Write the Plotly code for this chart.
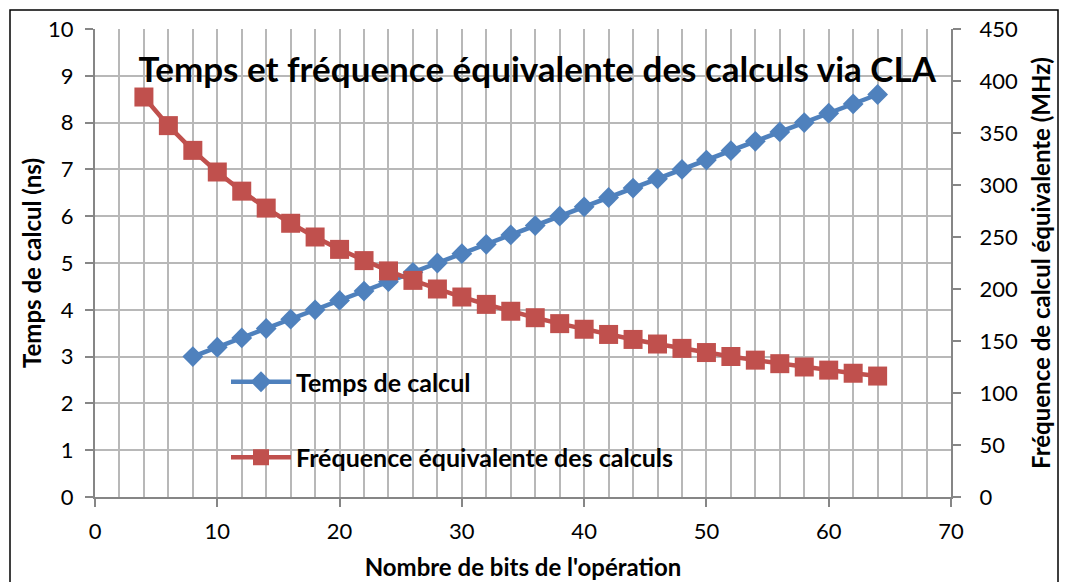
import plotly.graph_objects as go

# Data
bits_temps = [8, 10, 12, 14, 16, 18, 20, 22, 24, 26, 28, 30, 32, 34, 36, 38, 40,
              42, 44, 46, 48, 50, 52, 54, 56, 58, 60, 62, 64]
temps_ns = [3.0, 3.2, 3.4, 3.6, 3.8, 4.0, 4.2, 4.4, 4.6, 4.8, 5.0, 5.2, 5.4, 5.6,
            5.8, 6.0, 6.2, 6.4, 6.6, 6.8, 7.0, 7.2, 7.4, 7.6, 7.8, 8.0, 8.2, 8.4, 8.6]

bits_freq = [4, 6, 8, 10, 12, 14, 16, 18, 20, 22, 24, 26, 28, 30, 32, 34, 36, 38,
             40, 42, 44, 46, 48, 50, 52, 54, 56, 58, 60, 62, 64]
freq_mhz = [384.6, 357.1, 333.3, 312.5, 294.1, 277.8, 263.2, 250.0, 238.1, 227.3,
            217.4, 208.3, 200.0, 192.3, 185.2, 178.6, 172.4, 166.7, 161.3, 156.3,
            151.5, 147.1, 142.9, 138.9, 135.1, 131.6, 128.2, 125.0, 122.0, 119.0, 116.3]

BLUE = "#4F81BD"
RED = "#C0504D"
FONT = "Lato"
AXC = "#868686"
GRID = "#B8B8B8"

fig = go.Figure()
fig.add_trace(go.Scatter(
    x=bits_temps, y=temps_ns, name="Temps de calcul", mode="lines+markers",
    line=dict(color=BLUE, width=4.5),
    marker=dict(symbol="diamond", size=16, color=BLUE),
    legendgroup="t", yaxis="y"))
fig.add_trace(go.Scatter(
    x=bits_freq, y=freq_mhz, name="Fréquence équivalente des calculs", mode="lines+markers",
    line=dict(color=RED, width=4.5),
    marker=dict(symbol="square", size=19, color=RED),
    legendgroup="f", yaxis="y2"))

L, R, T, B = 95, 117, 29, 85
W, H = 1068, 582
pw, ph = W - L - R, H - T - B

def px2paper_x(px):
    return (px - L) / pw

def px2paper_y(py):
    return (H - B - py) / ph

fig.update_layout(
    width=W, height=H,
    margin=dict(l=L, r=R, t=T, b=B, autoexpand=False),
    paper_bgcolor="white", plot_bgcolor="white",
    font=dict(family=FONT, color="black"),
    showlegend=True,
    title=dict(text="<b>Temps et fréquence équivalente des calculs via CLA</b>",
               x=0.503, xanchor="center", y=1 - 70 / H, yanchor="middle",
               yref="container", xref="container",
               font=dict(size=35, family=FONT, color="black")),
    xaxis=dict(range=[0, 70], dtick=10, tick0=0,
               showgrid=True, gridcolor=GRID, gridwidth=1.5,
               minor=dict(dtick=2, showgrid=True, gridcolor=GRID, gridwidth=1.5),
               showline=True, linecolor=AXC, linewidth=2,
               ticks="outside", ticklen=8, tickcolor=AXC, tickwidth=2,
               tickfont=dict(size=22, family=FONT), ticklabelstandoff=6,
               zeroline=False,
               title=dict(text="<b>Nombre de bits de l'opération</b>",
                          font=dict(size=24, family=FONT), standoff=16)),
    yaxis=dict(range=[0, 10], dtick=1,
               showgrid=True, gridcolor=GRID, gridwidth=1.5,
               showline=True, linecolor=AXC, linewidth=2,
               ticks="outside", ticklen=8, tickcolor=AXC, tickwidth=2,
               tickfont=dict(size=22, family=FONT), ticklabelstandoff=7,
               zeroline=False,
               title=dict(text="<b>Temps de calcul (ns)</b>",
                          font=dict(size=24, family=FONT), standoff=0)),
    yaxis2=dict(range=[0, 450], dtick=50, overlaying="y", side="right",
                showgrid=False, showline=True, linecolor=AXC, linewidth=2,
                ticks="outside", ticklen=8, tickcolor=AXC, tickwidth=2,
                tickfont=dict(size=22, family=FONT), ticklabelstandoff=14,
                zeroline=False,
                title=dict(text="<b>Fréquence de calcul équivalente (MHz)</b>",
                           font=dict(size=24, family=FONT), standoff=16)),
    legend=dict(x=px2paper_x(226), y=px2paper_y(359), xanchor="left", yanchor="top",
                bgcolor="rgba(0,0,0,0)", font=dict(size=25, family=FONT, weight="bold"),
                itemwidth=60, traceorder="grouped", tracegroupgap=40),
    shapes=[dict(type="rect", xref="paper", yref="paper",
                 x0=px2paper_x(10), x1=px2paper_x(1058),
                 y0=px2paper_y(600), y1=px2paper_y(10),
                 line=dict(color="black", width=1.5), fillcolor="rgba(0,0,0,0)",
                 layer="below")],
)

fig.write_html("out.html", config={"displayModeBar": False},
               post_script="document.body.style.margin='0';")
